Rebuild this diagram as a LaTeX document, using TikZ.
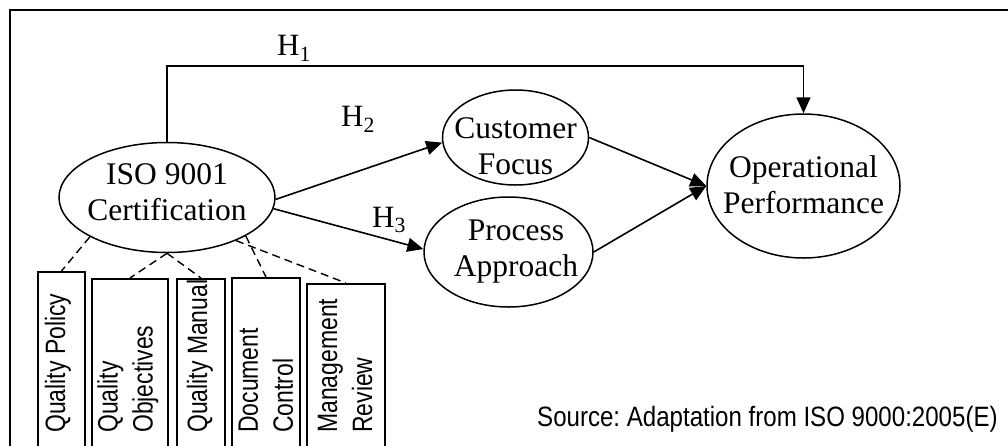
\documentclass[tikz,border=0pt]{standalone}
\usepackage{fontspec}
\setmainfont{Liberation Serif}
\newfontfamily\narrowsans[FakeStretch=0.82]{Liberation Sans}
\newfontfamily\srcsans[FakeStretch=0.86]{Liberation Sans}
\usetikzlibrary{shapes.geometric,arrows.meta}
\frenchspacing

\tikzset{
  construct/.style={ellipse, draw, line width=1.5pt, inner sep=0pt},
  ctext/.style={inner sep=0pt, align=center, font=\fontsize{31.5}{36}\selectfont},
  arr/.style={line width=1.6pt, -{Triangle[length=16pt,width=14pt]}},
  link/.style={line width=1.4pt, dash pattern=on 8pt off 5pt},
  docbox/.style={rectangle, draw, line width=1.5pt, inner sep=0pt, anchor=north,
    minimum height=200pt},
  doctext/.style={rotate=90, anchor=west, inner sep=0pt, align=left,
    font=\narrowsans\fontsize{28}{35}\selectfont},
  hlabel/.style={inner sep=0pt, font=\fontsize{31}{35}\selectfont},
}

\begin{document}
\begin{tikzpicture}[x=1pt, y=-1pt]
\useasboundingbox (0,0) rectangle (1008,445);
\clip (0,0) rectangle (1008,445);

% outer frame
\draw[line width=1.6pt] (10,460) -- (10,10) -- (1020,10);

% constructs
\node[construct, minimum width=216pt, minimum height=110pt] (iso) at (167,197.5) {};
\node[construct, minimum width=146pt, minimum height=95pt] (cf) at (515.5,137.5) {};
\node[construct, minimum width=169pt, minimum height=110pt] (pa) at (508.5,252) {};
\node[construct, minimum width=193pt, minimum height=144pt] (op) at (803.5,186) {};

\node[ctext] (isot) at (167,192) {ISO 9001\\Certification};
\node[ctext] (cft) at (515.5,146) {Customer\\Focus};
\node[ctext] (pat) at (516,252) {Process\\Approach};
\node[ctext] (opt) at (803.5,184.5) {Operational\\Performance};

% hypotheses
\coordinate (h1y) at (0,66);
\draw[arr] (iso.north) -- (iso.north |- h1y) -- (op.north |- h1y) -- (op.north);
\draw[arr] (iso.-1) -- (cf.184);
\draw[arr] (iso.-6) -- (pa.178);
\draw[arr] (cf.east) -- (op.west);
\draw[arr] (pa.east) -- (op.west);

\node[hlabel] (h1) at (294,48) {H\textsubscript{1}};
\node[hlabel] (h2) at (358,119) {H\textsubscript{2}};
\node[hlabel] (h3) at (389,220) {H\textsubscript{3}};

% documented elements
\node[docbox, minimum width=47pt] (b1) at (61.5,271) {};
\node[docbox, minimum width=76pt] (b2) at (130,278) {};
\node[docbox, minimum width=48pt] (b3) at (201,278) {};
\node[docbox, minimum width=68pt] (b4) at (266,277) {};
\node[docbox, minimum width=78pt] (b5) at (346,283) {};

\node[doctext] (t1) at (58,433) {Quality Policy};
\node[doctext] (t2) at (128,433) {Quality\\Objectives};
\node[doctext] (t3) at (200,433) {Quality Manual};
\node[doctext] (t4) at (266,433) {Document\\Control};
\node[doctext] (t5) at (345,433) {Management\\Review};

\draw[link] (iso.207) -- (b1.north);
\draw[link] (iso.south) -- (b2.north);
\draw[link] (iso.south) -- (b3.north);
\draw[link] (iso.334) -- (b4.north);
\draw[link] (iso.328) -- (b5.north);

% source note
\node[anchor=base west, inner sep=0pt, font=\srcsans\fontsize{28}{34}\selectfont] (src) at (537,426)
  {Source: Adaptation from ISO 9000:2005(E)};
\end{tikzpicture}
\end{document}
